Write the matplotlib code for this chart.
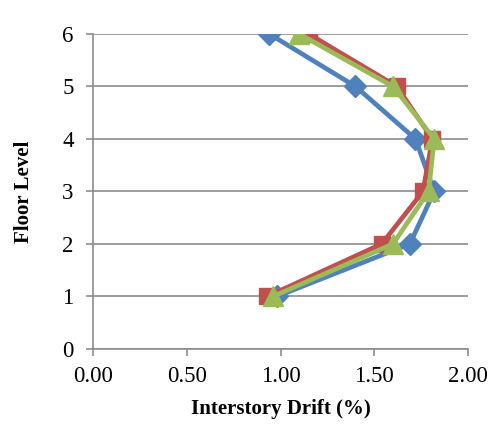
import matplotlib
matplotlib.use('Agg')
import matplotlib.pyplot as plt

# floor levels and interstory drift (%) for the three series
floors = [1, 2, 3, 4, 5, 6]
drift_blue = [0.98, 1.69, 1.82, 1.72, 1.40, 0.94]
drift_red = [0.93, 1.54, 1.76, 1.81, 1.62, 1.15]
drift_green = [0.96, 1.60, 1.79, 1.82, 1.60, 1.10]

x_ticks = [0.0, 0.5, 1.0, 1.5, 2.0]
y_ticks = [0, 1, 2, 3, 4, 5, 6]

plt.rcParams['font.family'] = ['Liberation Serif', 'DejaVu Serif']

fig = plt.figure(figsize=(4.9, 4.24), dpi=100)
ax = fig.add_axes([0.19, 0.177, 0.765, 0.743])

ax.plot(drift_blue, floors, color='#4F81BD', lw=3.4, marker='D', ms=11, zorder=3)
ax.plot(drift_red, floors, color='#C0504D', lw=3.4, marker='s', ms=12, zorder=4)
ax.plot(drift_green, floors, color='#9BBB59', lw=3.4, marker='^', ms=14, zorder=5)

ax.set_xlim(0, 2.0)
ax.set_ylim(0, 6)
ax.set_xticks(x_ticks)
ax.set_xticklabels(['%.2f' % v for v in x_ticks])
ax.set_yticks(y_ticks)

ax.yaxis.grid(True, color='#8c8c8c', lw=1.2)
ax.set_axisbelow(True)
for s in ['top', 'right']:
    ax.spines[s].set_visible(False)
for s in ['left', 'bottom']:
    ax.spines[s].set_color('#8c8c8c')
    ax.spines[s].set_linewidth(1.2)
ax.tick_params(colors='#8c8c8c', labelcolor='black', labelsize=16.5, length=5, width=1.2)
ax.tick_params(axis='x', pad=7)
ax.tick_params(axis='y', pad=9)

ax.set_xlabel('Interstory Drift (%)', fontsize=15, fontweight='bold', labelpad=9)
ax.set_ylabel('Floor Level', fontsize=15, fontweight='bold', labelpad=20)

fig.savefig('out.png', dpi=100)
